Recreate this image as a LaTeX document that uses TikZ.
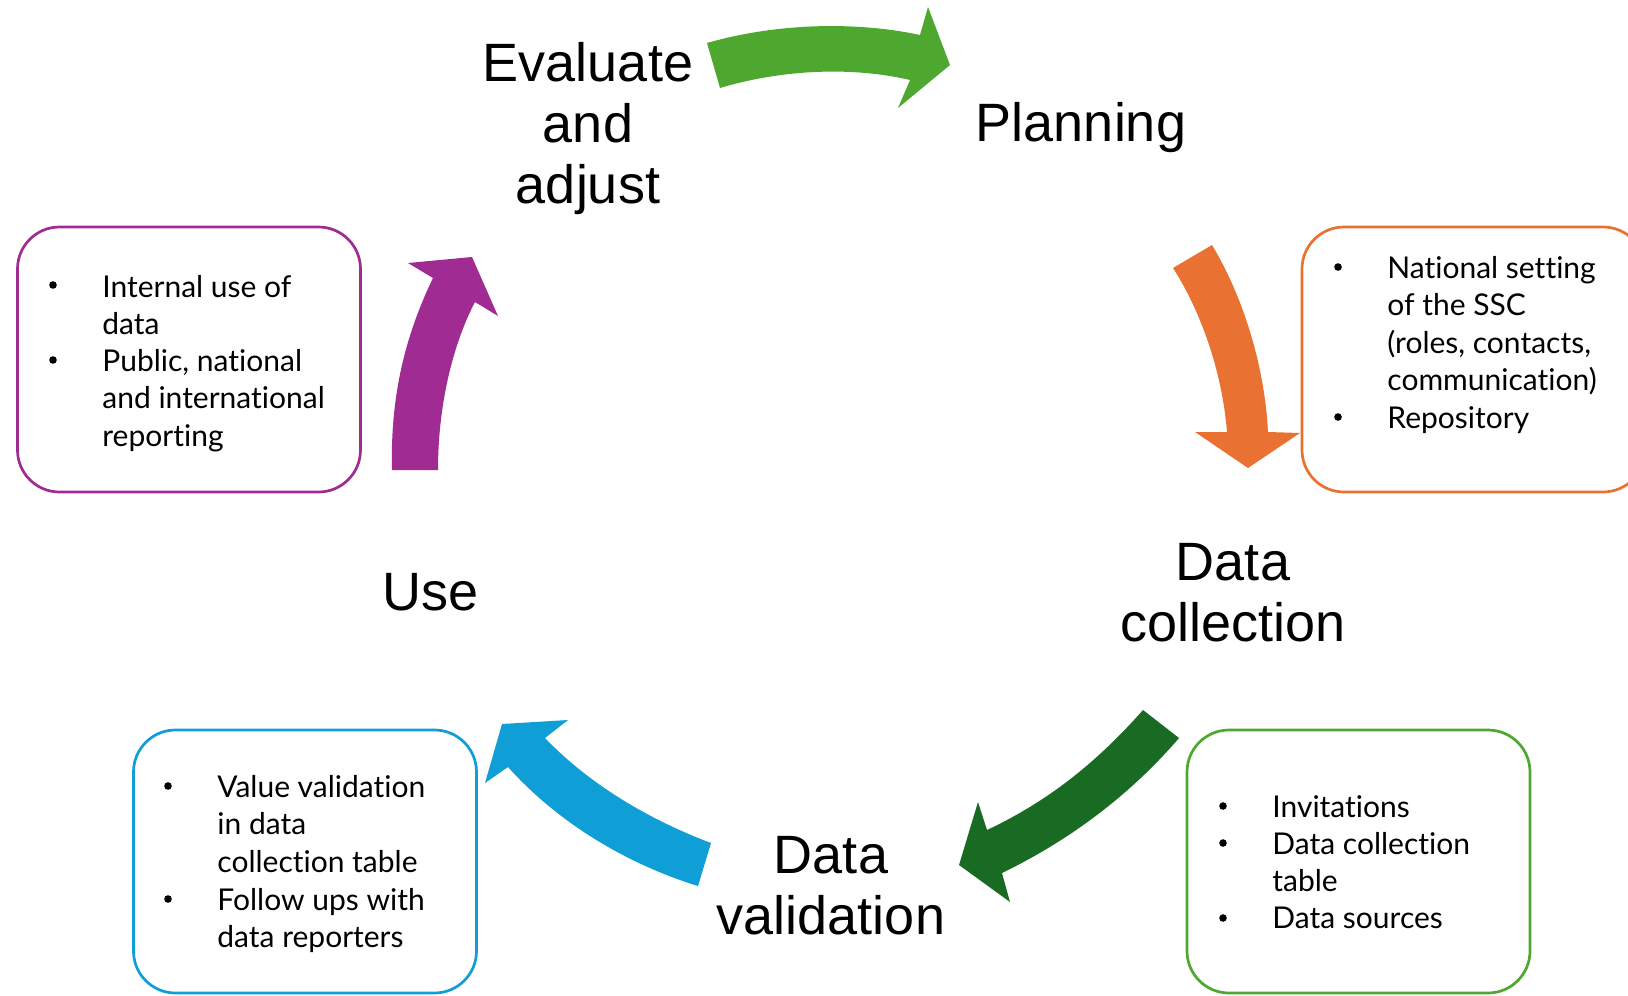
\documentclass[tikz,border=0pt]{standalone}
\usepackage{fontspec}
\setmainfont{Liberation Sans}
\newfontfamily\boxfont[Ligatures=NoCommon]{Lato}
\definecolor{cGreen}{HTML}{4EA72E}
\definecolor{cOrange}{HTML}{E97132}
\definecolor{cDark}{HTML}{196B24}
\definecolor{cBlue}{HTML}{0F9ED5}
\definecolor{cPurple}{HTML}{A02B93}
\begin{document}
\begin{tikzpicture}[x=0.5pt,y=-0.5pt,
  title/.style={font=\fontsize{27}{30.5}\selectfont, align=center, inner sep=0pt, anchor=north},
  item/.style={font=\boxfont\fontsize{15}{18.7}\selectfont, align=left, inner sep=0pt, anchor=north west},
  dot/.style={circle, fill=black, inner sep=0pt, minimum size=3.8pt},
  panel/.style={draw, line width=1.35pt, rounded corners=21pt, minimum width=171.5pt, inner sep=0pt}]
\useasboundingbox (0,0) rectangle (1628,996);

% titles
\node[title] (eval) at (588,42) {Evaluate\\and\\adjust};
\node[title] (plan) at (1081,102) {Planning};
\node[title] (coll) at (1233,543) {Data\\collection};
\node[title] (valid) at (831,836) {Data\\validation};
\node[title] (use) at (431,573) {Use};

% boxes
\node[panel, draw=cPurple, minimum height=132.5pt] (ubox) at (189,359.5) {};
\node[panel, draw=cOrange, minimum height=132.5pt] (pbox) at (1473.5,359.5) {};
\node[panel, draw=cGreen, minimum height=131.5pt] (cbox) at (1358.5,861.5) {};
\node[panel, draw=cBlue, minimum height=131.5pt] (vbox) at (305,861.5) {};

% arrows
\fill[cGreen] (707,43) .. controls (780,22) and (860,22) .. (920,35) -- (928,7) -- (950,65) -- (898,108) -- (910,80) .. controls (850,66) and (780,70) .. (720,88) -- cycle;
\fill[cOrange] (1173,268) .. controls (1200,310) and (1222,370) .. (1227,432) -- (1195,432) -- (1248,468) -- (1300,433) -- (1268,432) .. controls (1265,370) and (1245,300) .. (1212,245) -- cycle;
\fill[cDark] (1143,710) .. controls (1090,770) and (1040,805) .. (987,830) -- (978,802) -- (959,865) -- (1010,902) -- (1002,873) .. controls (1070,840) and (1130,795) .. (1179,738) -- cycle;
\fill[cBlue] (711,843) .. controls (650,820) and (590,785) .. (545,738) -- (568,720) -- (502,724) -- (485,783) -- (508,767) .. controls (560,825) and (630,865) .. (698,886) -- cycle;
\fill[cPurple] (392,470) .. controls (390,390) and (408,330) .. (433,278) -- (408,263) -- (472,257) -- (498,316) -- (475,302) .. controls (455,340) and (438,400) .. (438,470) -- cycle;

% purple box text
\node[dot] (ud1) at (53,285) {};
\node[item] (ut1) at (102,274.5) {Internal use of\\data};
\node[dot] (ud2) at (53,360) {};
\node[item] (ut2) at (102,349) {Public, national\\and international\\reporting};

% orange box text
\node[dot] (pd1) at (1338,267) {};
\node[item] (pt1) at (1387,256) {National setting\\of the SSC\\(roles, contacts,\\communication)};
\node[dot] (pd2) at (1338,417) {};
\node[item] (pt2) at (1387,406) {Repository};

% green box text
\node[dot] (cd1) at (1223,806) {};
\node[item] (ct1) at (1272,795) {Invitations};
\node[dot] (cd2) at (1223,843) {};
\node[item] (ct2) at (1272,832) {Data collection\\table};
\node[dot] (cd3) at (1223,918) {};
\node[item] (ct3) at (1272,907) {Data sources};

% blue box text
\node[dot] (vd1) at (168,786) {};
\node[item] (vt1) at (217,775) {Value validation\\in data\\collection table};
\node[dot] (vd2) at (168,899) {};
\node[item] (vt2) at (217,888) {Follow ups with\\data reporters};
\end{tikzpicture}
\end{document}
